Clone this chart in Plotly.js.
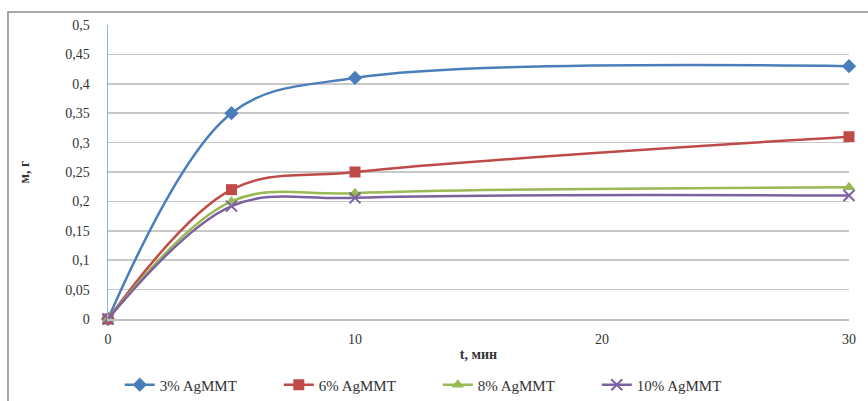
<!DOCTYPE html>
<html><head><meta charset="utf-8">
<script src="https://cdn.plot.ly/plotly-3.0.1.min.js"></script>
<style>html,body{margin:0;padding:0;background:#fff}#chart{width:868px;height:401px}</style>
</head><body><div id="chart"></div>
<script>
var times = [0, 5, 10, 30];
var seriesNames = ['3% AgMMT', '6% AgMMT', '8% AgMMT', '10% AgMMT'];
var s3 = [0, 0.35, 0.41, 0.43];
var s6 = [0, 0.22, 0.25, 0.31];
var s8 = [0, 0.20, 0.214, 0.224];
var s10 = [0, 0.192, 0.206, 0.21];
var yTicks = [0, 0.05, 0.1, 0.15, 0.2, 0.25, 0.3, 0.35, 0.4, 0.45, 0.5];
var xTicks = [0, 10, 20, 30];

var colors = ['#4a7ebb', '#be4b48', '#98b954', '#7d60a0'];
var symbols = ['diamond', 'square', 'triangle-up', 'x-thin'];
var sizes = [11, 11, 11, 11];
var data = [s3, s6, s8, s10].map(function (v, i) {
  return {
    x: times, y: v, name: seriesNames[i], type: 'scatter', mode: 'lines+markers',
    line: {color: colors[i], width: 2.5, shape: 'spline', smoothing: 1},
    marker: {symbol: symbols[i], size: sizes[i], color: colors[i],
             line: {color: colors[i], width: i === 3 ? 2 : 0}},
    cliponaxis: false
  };
});
var font = {family: '"Liberation Serif", "Times New Roman", serif', size: 14, color: '#333'};
var layout = {
  width: 868, height: 401,
  margin: {l: 108, r: 19, t: 25, b: 82},
  separators: ', ',
  font: font,
  showlegend: true,
  paper_bgcolor: '#fff', plot_bgcolor: '#fff',
  xaxis: {
    range: [0, 30], tickvals: xTicks, showgrid: false, zeroline: false,
    showline: true, linecolor: '#bfbfbf', linewidth: 1.5,
    ticks: 'outside', ticklen: 7, tickcolor: 'rgba(0,0,0,0)',
    title: {text: '<b>t, мин</b>', font: {family: font.family, size: 14, color: '#333'}, standoff: 3}
  },
  yaxis: {
    range: [0, 0.5], tickvals: yTicks, showgrid: true, gridcolor: '#c8c8c8', gridwidth: 1.5,
    zeroline: false, showline: true, linecolor: '#8eb4e3', linewidth: 1.5,
    ticks: 'outside', ticklen: 14, tickcolor: 'rgba(0,0,0,0)',
    title: {text: '<b>м, г</b>', font: {family: font.family, size: 14, color: '#333'}, standoff: 32}
  },
  legend: {orientation: 'h', xref: 'container', yref: 'container', x: 0.138, xanchor: 'left',
           y: 0.04, yanchor: 'middle',
           font: {family: font.family, size: 15, color: '#333'}, entrywidth: 114, traceorder: 'normal'},
  shapes: [{type: 'rect', xref: 'paper', yref: 'paper', x0: -0.135, x1: 1.05, y0: -0.3, y1: 1.044,
            line: {color: '#8c8c8c', width: 1.5}, fillcolor: 'rgba(0,0,0,0)', layer: 'below'}]
};
Plotly.newPlot('chart', data, layout, {displayModeBar: false, staticPlot: true});
</script></body></html>
